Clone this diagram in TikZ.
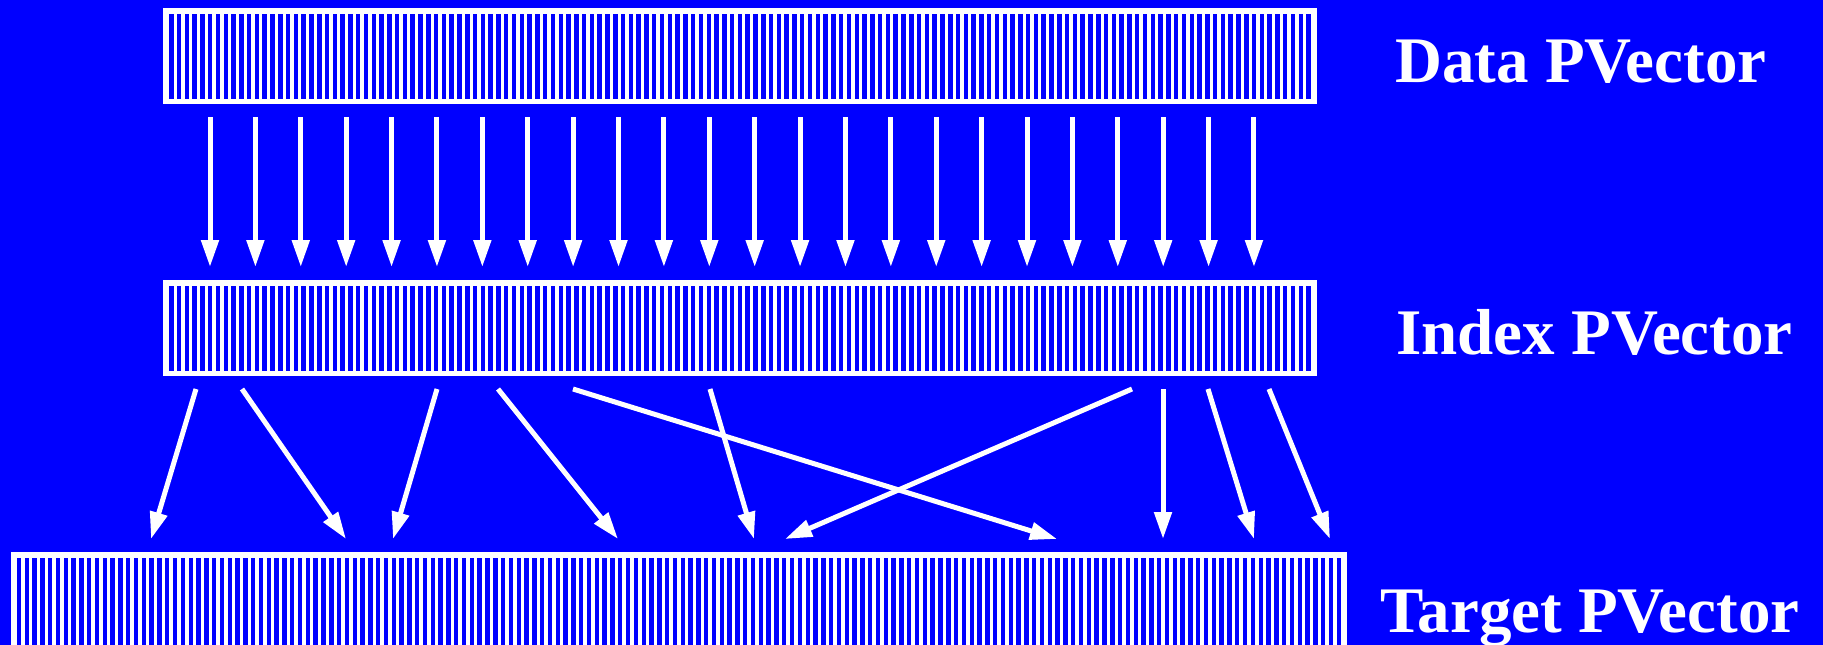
\documentclass[tikz,border=0pt]{standalone}
\usepackage{fontspec}
\setmainfont{Liberation Serif}
\usetikzlibrary{arrows.meta}
\definecolor{pvblue}{RGB}{0,0,255}
\tikzset{
  vecbar/.style={fill=white},
  barstripe/.style={fill=pvblue},
  maparrow/.style={-{Triangle[length=27pt,width=17pt]},white,line width=5pt},
  veclabel/.style={anchor=base west,text=white,inner sep=0pt,
    font=\fontsize{65}{78}\selectfont\bfseries}
}
\begin{document}
\begin{tikzpicture}[x=1pt,y=-1pt]
        \useasboundingbox (0,0) rectangle (1823,645);
        \fill[pvblue] (0,0) rectangle (1823,645);
        % the three vectors
        \fill[vecbar] (163,8) rectangle (1317,104);
        \foreach \k in {0,...,146}
            \fill[barstripe] ({169+7.79*\k},13.5) rectangle +(4.5,85.5);
        \fill[vecbar] (163,280) rectangle (1317,376);
        \foreach \k in {0,...,146}
            \fill[barstripe] ({169+7.79*\k},285.5) rectangle +(4.5,85.5);
        \fill[vecbar] (11,552) rectangle (1347,660);
        \foreach \k in {0,...,169}
            \fill[barstripe] ({16.7+7.81*\k},557.7) rectangle +(4.4,100);
        \node[veclabel] (datalbl) at (1395,82) {Data PVector};
        \node[veclabel] (indexlbl) at (1396,354) {Index PVector};
        \node[veclabel] (targetlbl) at (1380,632) {Target PVector};
        % data -> index
        \foreach \k in {0,...,23} {
            \coordinate (d\k) at ({210+45.39*\k},117);
            \coordinate (i\k) at ({210+45.39*\k},267);
            \draw[maparrow] (d\k) -- (i\k);
        }
        % index -> target
        \foreach \n/\sx/\tx in {1/196/151,2/242/346,3/437/393,4/498/618,5/573/1057,
                                6/710/754,7/1132/785,8/1163/1163,9/1208/1254,10/1269/1330} {
            \coordinate (s\n) at (\sx,389);
            \coordinate (t\n) at (\tx,539);
            \draw[maparrow] (s\n) -- (t\n);
        }
\end{tikzpicture}
\end{document}
